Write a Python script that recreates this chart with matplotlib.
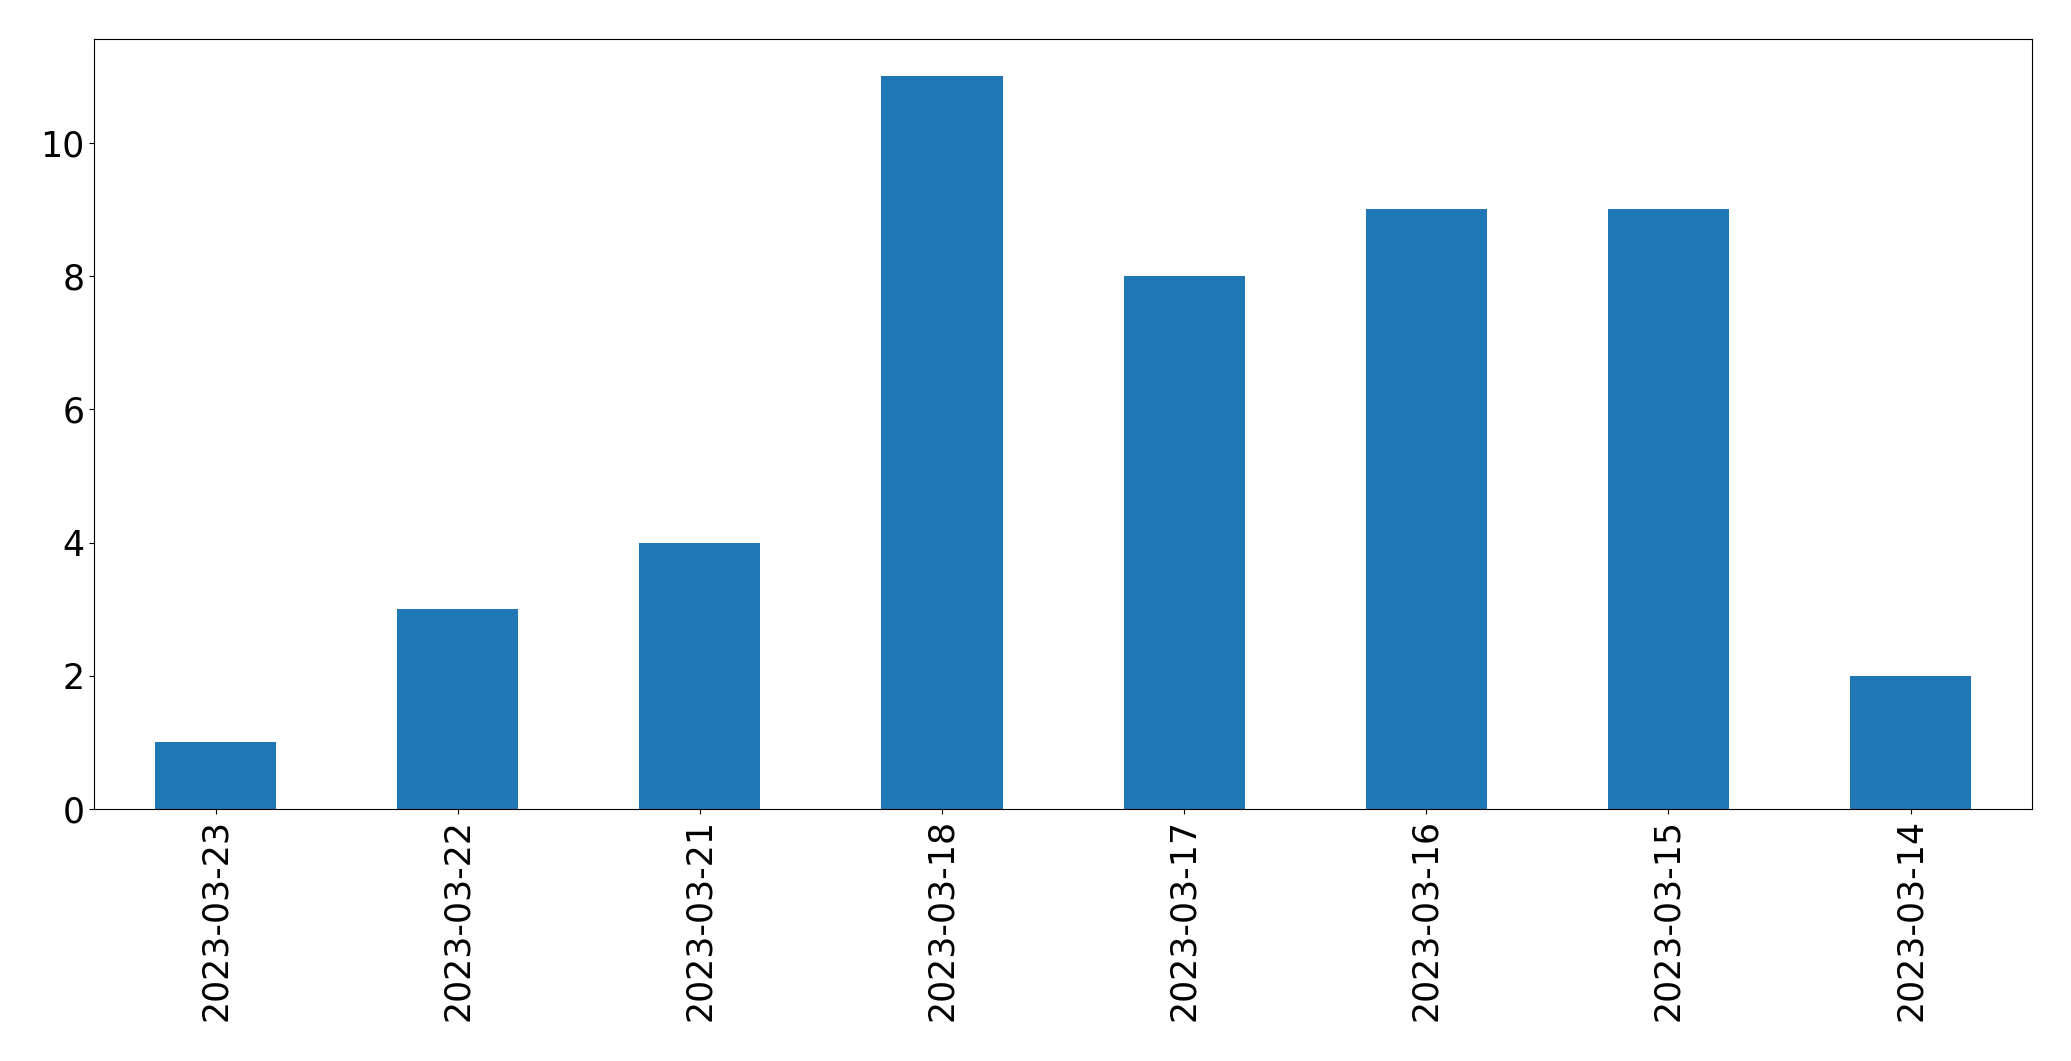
import pandas as pd
import matplotlib
matplotlib.use("Agg")
import matplotlib.pyplot as plt

dates = ['2023-03-23', '2023-03-22', '2023-03-21', '2023-03-18',
         '2023-03-17', '2023-03-16', '2023-03-15', '2023-03-14']
counts = [1, 3, 4, 11, 8, 9, 9, 2]

s = pd.Series(counts, index=dates)

fig, ax = plt.subplots(figsize=(20.71, 10.61), dpi=100)
s.plot.bar(ax=ax, color='#1f77b4', width=0.5)

ax.tick_params(axis='both', labelsize=25)
plt.setp(ax.get_xticklabels(), rotation=90)
ax.set_xlim(-0.5, 7.5)

fig.subplots_adjust(left=0.0456, right=0.981, top=0.9628, bottom=0.2375)
fig.savefig('out.png', dpi=100)
